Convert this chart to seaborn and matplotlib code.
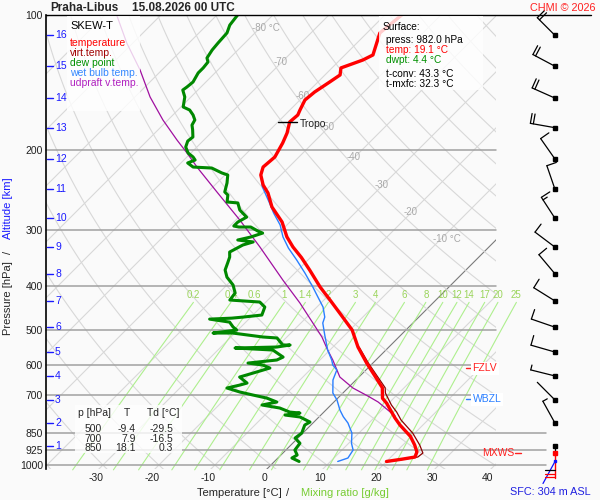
import numpy as np
import pandas as pd
import matplotlib
matplotlib.use("Agg")
import matplotlib.pyplot as plt
import matplotlib.transforms as mtrans
from matplotlib.patches import Rectangle
import seaborn as sns

sns.set_style("white")
plt.rcParams['font.family'] = ['Liberation Sans', 'DejaVu Sans']

# ---------------- sounding values ------------------------------------
# temperature: pressure [hPa], T [degC]
temp_p = [100, 109.6, 122.7, 125.9, 131.1, 135.9, 140.9, 148.3, 154.5, 162.6,
          166.8, 172.9, 182.9, 192.5, 206.8, 217.7, 226.7, 238.6, 248.6, 267.0,
          288.4, 311.1, 327.7, 345.9, 368.7, 402.2, 429.9, 469.1, 501.2, 547.0,
          593.6, 636.6, 673.4, 710.6, 728.5, 762.6, 786.0, 814.9, 863.7, 902.7,
          935.6, 959.9, 969.8, 982.0]
temp_t = [-57.0, -57.7, -55.0, -55.9, -58.4, -57.3, -57.9, -58.8, -59.1, -58.2,
          -57.7, -57.9, -56.4, -55.4, -54.3, -54.6, -53.6, -51.4, -49.1, -45.9,
          -41.4, -37.9, -35.0, -31.6, -27.9, -23.0, -18.9, -13.6, -9.6, -5.5,
          -1.1, 2.9, 6.1, 8.0, 9.6, 12.1, 13.75, 15.9, 19.8, 22.1,
          23.75, 24.3, 22.5, 20.0]

# virtual temperature (lower part, above 500 hPa it equals temperature)
virt_p = [547.0, 593.6, 636.6, 673.4, 692.0, 735.6, 762.6, 794.3, 849.0, 902.7,
          940.5, 959.9, 969.8, 982.0]
virt_t = [-5.3, -0.8, 3.3, 6.6, 7.6, 10.8, 13.0, 15.2, 19.6, 23.0,
          25.0, 24.8, 22.9, 20.6]

# dew point
dew_p = [100, 105.3, 109.6, 115.4, 119.6, 124.6, 127.2, 131.1, 134.5, 140.9,
         144.6, 146.8, 152.1, 160.1, 162.6, 166.8, 171.1, 175.6, 180.1, 186.7,
         190.6, 196.5, 202.6, 206.8, 210.0, 213.2, 217.7, 218.8, 224.4, 226.7,
         236.2, 247.3, 251.2, 260.3, 261.6, 271.2, 281.3, 288.4, 294.4, 295.9,
         295.9, 302.1, 305.2, 311.4, 316.2, 319.4, 324.4, 336.3, 345.0, 355.7,
         368.7, 382.4, 398.1, 414.8, 429.9, 434.3, 445.6, 464.2, 469.1, 471.6,
         474.0, 481.3, 493.5, 501.2, 509.0, 509.0, 519.4, 522.0, 541.2, 541.2,
         546.7, 549.5, 555.2, 569.6, 575.6, 584.3, 593.5, 599.5, 608.8, 624.6,
         637.5, 657.4, 664.1, 674.4, 688.2, 699.0, 709.9, 724.4, 735.6, 747.0,
         762.6, 766.5, 774.3, 782.0, 802.5, 814.9, 849.0, 871.0, 894.6, 926.1,
         950.1, 964.8, 982.0]
dew_t = [-86.3, -85.9, -85.0, -84.8, -84.6, -84.1, -83.2, -83.0, -83.0, -82.3,
         -82.5, -82.7, -81.1, -79.6, -77.9, -76.4, -75.2, -74.8, -73.8, -72.5,
         -72.7, -72.0, -70.5, -68.9, -68.0, -68.8, -67.1, -63.6, -60.9, -59.5,
         -58.2, -57.0, -55.9, -54.8, -52.7, -51.1, -48.6, -49.3, -49.3, -48.2,
         -46.1, -44.1, -42.9, -44.3, -46.1, -43.0, -44.3, -45.4, -44.5, -43.8,
         -43.0, -41.4, -38.9, -37.1, -36.8, -31.1, -29.3, -28.4, -31.4, -33.2,
         -37.0, -32.9, -31.4, -30.2, -33.9, -30.4, -24.3, -21.6, -19.3, -18.0,
         -20.0, -27.3, -20.2, -18.0, -17.1, -17.7, -22.3, -19.3, -17.5, -19.6,
         -21.3, -18.9, -19.8, -21.6, -18.6, -15.7, -12.7, -10.2, -12.3, -8.6,
         -6.1, -4.1, -6.4, -3.4, -0.7, -1.1, -0.2, -0.5, 1.3, 1.6,
         2.9, 2.5, 4.4]

# wet bulb temperature (above 230 hPa it equals temperature)
wb_p = [240.9, 260.3, 275.5, 292.9, 311.1, 329.6, 350.3, 374.5, 402.2, 423.4,
        445.6, 469.1, 483.5, 514.2, 555.2, 584.3, 599.5, 615.0, 647.3, 691.8,
        717.1, 754.7, 781.0, 806.5, 849.0, 894.6, 926.1, 964.8, 982.0]
wb_t = [-51.2, -47.3, -44.5, -41.2, -38.6, -35.6, -32.0, -28.2, -24.3, -21.6,
        -18.9, -16.8, -16.1, -13.6, -10.4, -7.9, -6.8, -5.2, -4.1, -1.8,
        0.2, 2.5, 4.3, 6.25, 8.75, 10.5, 12.0, 12.5, 11.3]

# updraft virtual temperature (parcel)
up_p = [100, 115.4, 132.5, 152.1, 171.1, 189.6, 202.6, 218.8, 247.3, 285.5,
        327.7, 388.1, 436.5, 519.4, 555.2, 584.3, 637.5, 674.4, 702.6, 724.4, 778.0]
up_t = [-107.9, -101.1, -93.9, -87.3, -80.9, -74.8, -70.7, -66.1, -58.4, -49.3,
        -40.9, -30.9, -23.75, -13.75, -10.4, -7.7, -3.4, 0.9, 5.0, 7.9, 13.4]

# altitude scale [km] and the pressure where each km sits; winds at those levels
alt_km = list(range(1, 17))
alt_p = [907, 807, 717, 634, 561, 494, 432, 376, 328, 283, 244, 209, 178, 153, 130, 111]
wind_dir = [0, 331, 315, 284, 286, 289, 302, 320, 307, 327, 341, 325, 280, 294, 298, 315]
wind_kt = [0, 5, 2, 5, 10, 10, 10, 10, 10, 15, 10, 10, 20, 20, 20, 20]

p_lines = [200, 300, 400, 500, 600, 700, 850, 925, 1000]
x_ticks = [-30, -20, -10, 0, 10, 20, 30, 40]
mix_w = [0.2, 0.4, 0.6, 1, 1.4, 2, 3, 4, 6, 8, 10, 12, 14, 17, 20, 25]
iso_lab_t = [-80, -70, -60, -50, -40, -30, -20, -10]
iso_lab_p = [106.9, 127.2, 151.4, 177.4, 206.8, 238.6, 274.0, 314.8]

sfc_press, sfc_temp, sfc_dwpt = 982.0, 19.1, 4.4
t_conv, t_mxfc = 43.3, 32.3
tab_p = [500, 700, 850]
tab_t = [-9.4, 7.9, 18.1]
tab_td = [-29.5, -16.5, 0.3]
tropo_p, tropo_t = 173, -57.9
fzlv_p, wbzl_p, mxws_p = 610, 714, 939

# ---------------- skew-T geometry -----------------
K = 450 / 5.6
P_REF = 1036.0
BG = '#fafafa'


def skx(t, p):
    return np.asarray(t, float) + K * np.log10(P_REF / np.asarray(p, float))


def td_from_w(w, p):
    e = w * p / (622.0 + w)
    g = np.log(e / 6.112)
    return 243.5 * g / (17.67 - g)


fig = plt.figure(figsize=(6, 5), dpi=100, facecolor=BG)
ax = fig.add_axes([46 / 600, 1 - 468.9 / 500, 450 / 600, 453.9 / 500])
ax.set_facecolor(BG)
ax.set_yscale('log')
ytr = ax.get_yaxis_transform()

# isotherms and dry adiabats
pp = np.logspace(np.log10(1030), 2, 120)
for t in range(-140, 50, 10):
    ax.plot(skx(t, pp), pp, color='#7a7a7a' if t == 0 else '#d8d8d8', lw=0.8, zorder=1)
for th in range(-40, 200, 10):
    tt = (th + 273.15) * (pp / 1000.0) ** 0.2857 - 273.15
    ax.plot(skx(tt, pp), pp, color='#d8d8d8', lw=0.8, zorder=1)

for t, p in zip(iso_lab_t, iso_lab_p):
    lab = f"{t} °C" if t in (-80, -10) else f"{t}"
    ax.annotate(lab, (skx(t, p), p), xytext=(-5.8, 0), textcoords='offset points',
                ha='left', va='center', color='#a8a8a8', fontsize=7, zorder=1.2)

# mixing ratio lines
pm = np.logspace(np.log10(1025), np.log10(435), 40)
for w in mix_w:
    ax.plot(skx(td_from_w(w, pm), pm), pm, color='#aeef8e', lw=0.8, zorder=1.5, clip_on=False)
    ax.text(skx(td_from_w(w, 435), 435), 419, f"{w:g}", ha='center', va='center',
            color='#9ad45a', fontsize=7, zorder=1.6, clip_on=False)

# pressure lines
for p in p_lines:
    ext = 1.111 if p >= 850 else 1.0
    ax.plot([0, ext], [p, p], transform=ytr, color='#a0a0a0', lw=1.1, zorder=2, clip_on=False)
ax.plot([0, 1.211], [100, 100], transform=ytr, color='black', lw=1.0, zorder=6, clip_on=False)

# ---------------- profiles -----------------
profiles = [
    (up_p, up_t, '#a010a0', 0.9, 3.0),
    (temp_p[:17] + wb_p, temp_t[:17] + wb_t, '#2a7fff', 1.0, 3.5),
    (temp_p[:30] + virt_p, temp_t[:30] + virt_t, '#8b0000', 0.9, 3.6),
    (temp_p, temp_t, '#ff0000', 2.4, 4.0),
    (dew_p, dew_t, '#008800', 2.2, 4.0),
]
for p, t, col, lw, z in profiles:
    df = pd.DataFrame({'X': skx(t, p), 'p': p})
    sns.lineplot(data=df, x='X', y='p', sort=False, estimator=None, ax=ax,
                 color=col, linewidth=lw, zorder=z, legend=False)

# tropopause marker
x0 = skx(tropo_t, tropo_p)
ax.plot([x0 - 2.1, x0 + 1.4], [tropo_p, tropo_p], color='black', lw=1.0, zorder=5)
ax.text(x0 + 1.8, tropo_p + 2, "Tropo", fontsize=7.5, color='#202020', ha='left', va='center', zorder=5)

# level labels
for p, lab, col in [(fzlv_p, "FZLV", '#ff2020'), (wbzl_p, "WBZL", '#2a7fff')]:
    ax.plot([0.9335, 0.946], [p, p], transform=ytr, color=col, lw=1.0, zorder=7, clip_on=False)
    ax.text(0.948, p, lab, transform=ytr, color=col, fontsize=7.5, ha='left', va='center',
            zorder=7, clip_on=False, bbox=dict(fc='white', ec='none', pad=1.0))
ax.text(0.969, mxws_p, "MXWS", transform=ytr, color='#ff2020', fontsize=7.5, ha='left',
        va='center', zorder=7, clip_on=False)
ax.plot([1.042, 1.056], [mxws_p, mxws_p], transform=ytr, color='#ff2020', lw=1.0, clip_on=False)

# altitude scale
for km, p in zip(alt_km, alt_p):
    ax.plot([0.002, 0.016], [p, p], transform=ytr, color='#1a1aff', lw=1.0, zorder=6)
    ax.text(0.02, p, str(km), transform=ytr, color='#1a1aff', fontsize=7.5,
            ha='left', va='center', zorder=6)

# wind barbs (staff length 25 px, barbs 10 px)
xw = (555 - 46) / 450
for p, d, s in zip(alt_p, wind_dir, wind_kt):
    tr = fig.dpi_scale_trans + mtrans.ScaledTranslation(xw, p, ytr)
    ax.plot([0], [0], 's', ms=2.4, color='black', transform=tr, clip_on=False, zorder=6)
    if s <= 0:
        continue
    ux, uy = np.sin(np.radians(d)), np.cos(np.radians(d))
    tx, ty = 0.25 * ux, 0.25 * uy
    ax.plot([0, tx], [0, ty], color='black', lw=0.9, transform=tr, clip_on=False)
    pos = 0.0
    for i in range(int(s // 10)):
        sx, sy = tx - pos * ux, ty - pos * uy
        ax.plot([sx, sx + 0.10 * uy], [sy, sy - 0.10 * ux], color='black', lw=0.9,
                transform=tr, clip_on=False)
        pos += 0.03
    if s % 10 >= 5:
        sx, sy = tx - pos * ux, ty - pos * uy
        ax.plot([sx, sx + 0.05 * uy], [sy, sy - 0.05 * ux], color='black', lw=0.9,
                transform=tr, clip_on=False)

# low level markers under the wind column
ax.plot([xw, xw], [alt_p[0], mxws_p], transform=ytr, color='black', lw=0.9, clip_on=False)
ax.plot([xw, xw], [mxws_p, 1068], transform=ytr, color='#ff0000', lw=1.0, clip_on=False)
ax.plot([xw], [mxws_p], 's', ms=2.4, color='#ff0000', transform=ytr, clip_on=False)
ax.plot([xw], [sfc_press], 's', ms=2.0, color='#1010ff', transform=ytr, clip_on=False)
trs = fig.dpi_scale_trans + mtrans.ScaledTranslation(xw, sfc_press, ytr)
ax.plot([0, -0.12], [0, -0.22], color='#1010ff', lw=0.9, transform=trs, clip_on=False)
ax.plot([1.109, xw], [1026, 1026], transform=ytr, color='black', lw=0.9, clip_on=False)
for p in (1045, 1065):
    ax.plot([1.109, xw], [p, p], transform=ytr, color='#ff0000', lw=0.9, clip_on=False)

# ---------------- axes -----------------
ax.set_xlim((46 - 264) / 5.6, (496 - 264) / 5.6)
ax.set_ylim(1020, 100)
ax.set_xticks(x_ticks)
ax.set_xticklabels([str(v) for v in x_ticks])
ax.yaxis.set_minor_locator(matplotlib.ticker.NullLocator())
ax.set_yticks([100] + p_lines)
ax.set_yticklabels([str(v) for v in [100] + p_lines])
ax.tick_params(axis='x', length=0, labelsize=7.5, pad=3, colors='#202020')
ax.tick_params(axis='y', length=0, labelsize=7.5, pad=2.2, colors='#202020')
ax.set_xlabel('')
ax.set_ylabel('')
for side in ('top', 'right', 'bottom'):
    ax.spines[side].set_visible(False)
ax.spines['left'].set_color('black')
ax.spines['left'].set_linewidth(1.2)


def fx(x):
    return x / 600


def fy(y):
    return 1 - y / 500


def box(x1, y1, x2, y2):
    fig.add_artist(Rectangle((fx(x1), fy(y2)), fx(x2) - fx(x1), fy(y1) - fy(y2),
                             transform=fig.transFigure, fc='white', ec='none',
                             alpha=0.8, zorder=10))


# legend box
box(67, 16, 140, 111)
fig.text(fx(70), fy(26), "SKEW-T", fontsize=8, color='black', va='center', zorder=11)
leg = [("temperature", '#ff0000'), ("virt.temp.", '#a00000'), ("dew point", '#009000'),
       ("wet bulb temp.", '#3388ff'), ("udpraft v.temp.", '#b020c0')]
for i, (lab, col) in enumerate(leg):
    fig.text(fx(70), fy(42.5 + 10 * i), lab, fontsize=7.5, color=col, va='center', zorder=11)

# surface box
box(379, 16, 483, 90)
sfc = [("Surface:", 'black', 383, 27),
       (f"press: {sfc_press:.1f} hPa", 'black', 386, 40),
       (f"temp: {sfc_temp:.1f} °C", '#ff0000', 386, 50),
       (f"dwpt: {sfc_dwpt:.1f} °C", '#009000', 386, 60),
       (f"t-conv: {t_conv:.1f} °C", 'black', 386, 74),
       (f"t-mxfc: {t_mxfc:.1f} °C", 'black', 386, 84)]
for lab, col, x, y in sfc:
    fig.text(fx(x), fy(y), lab, fontsize=7.3, color=col, va='center', zorder=11)

# table box
box(75, 405, 182, 453)
fig.text(fx(78), fy(413), "p [hPa]", fontsize=7.5, va='center', zorder=11)
fig.text(fx(127), fy(413), "T", fontsize=7.5, va='center', ha='center', zorder=11)
fig.text(fx(147), fy(413), "Td [°C]", fontsize=7.5, va='center', zorder=11)
for i, (p, t, td) in enumerate(zip(tab_p, tab_t, tab_td)):
    y = fy(429 + 9.7 * i)
    fig.text(fx(102), y, f"{p}", fontsize=7.5, va='center', ha='right', zorder=11)
    fig.text(fx(136), y, f"{t:.1f}", fontsize=7.5, va='center', ha='right', zorder=11)
    fig.text(fx(173), y, f"{td:.1f}", fontsize=7.5, va='center', ha='right', zorder=11)

# titles and axis captions
fig.text(fx(50), fy(8), "Praha-Libus", fontsize=8.5, weight='bold', va='center')
fig.text(fx(132), fy(8), "15.08.2026 00 UTC", fontsize=8.5, weight='bold', va='center')
fig.text(fx(596), fy(8), "CHMI © 2026", fontsize=7.8, color='#ff2020', ha='right', va='center')
fig.text(fx(8), fy(298), "Pressure [hPa]", fontsize=8, rotation=90, ha='center', va='center')
fig.text(fx(8), fy(252), "/", fontsize=8, rotation=90, ha='center', va='center')
fig.text(fx(8), fy(208), "Altitude [km]", fontsize=8, color='#1a1aff', rotation=90,
         ha='center', va='center')
fig.text(fx(239), fy(493), "Temperature [°C]", fontsize=8, ha='center', va='center')
fig.text(fx(288), fy(493), "/", fontsize=8, ha='center', va='center')
fig.text(fx(345), fy(493), "Mixing ratio [g/kg]", fontsize=8, color='#77cc33',
         ha='center', va='center')
fig.text(fx(550), fy(492), "SFC: 304 m ASL", fontsize=7.8, color='#2020e0',
         ha='center', va='center')

fig.savefig("out.png", dpi=100, facecolor=BG)
